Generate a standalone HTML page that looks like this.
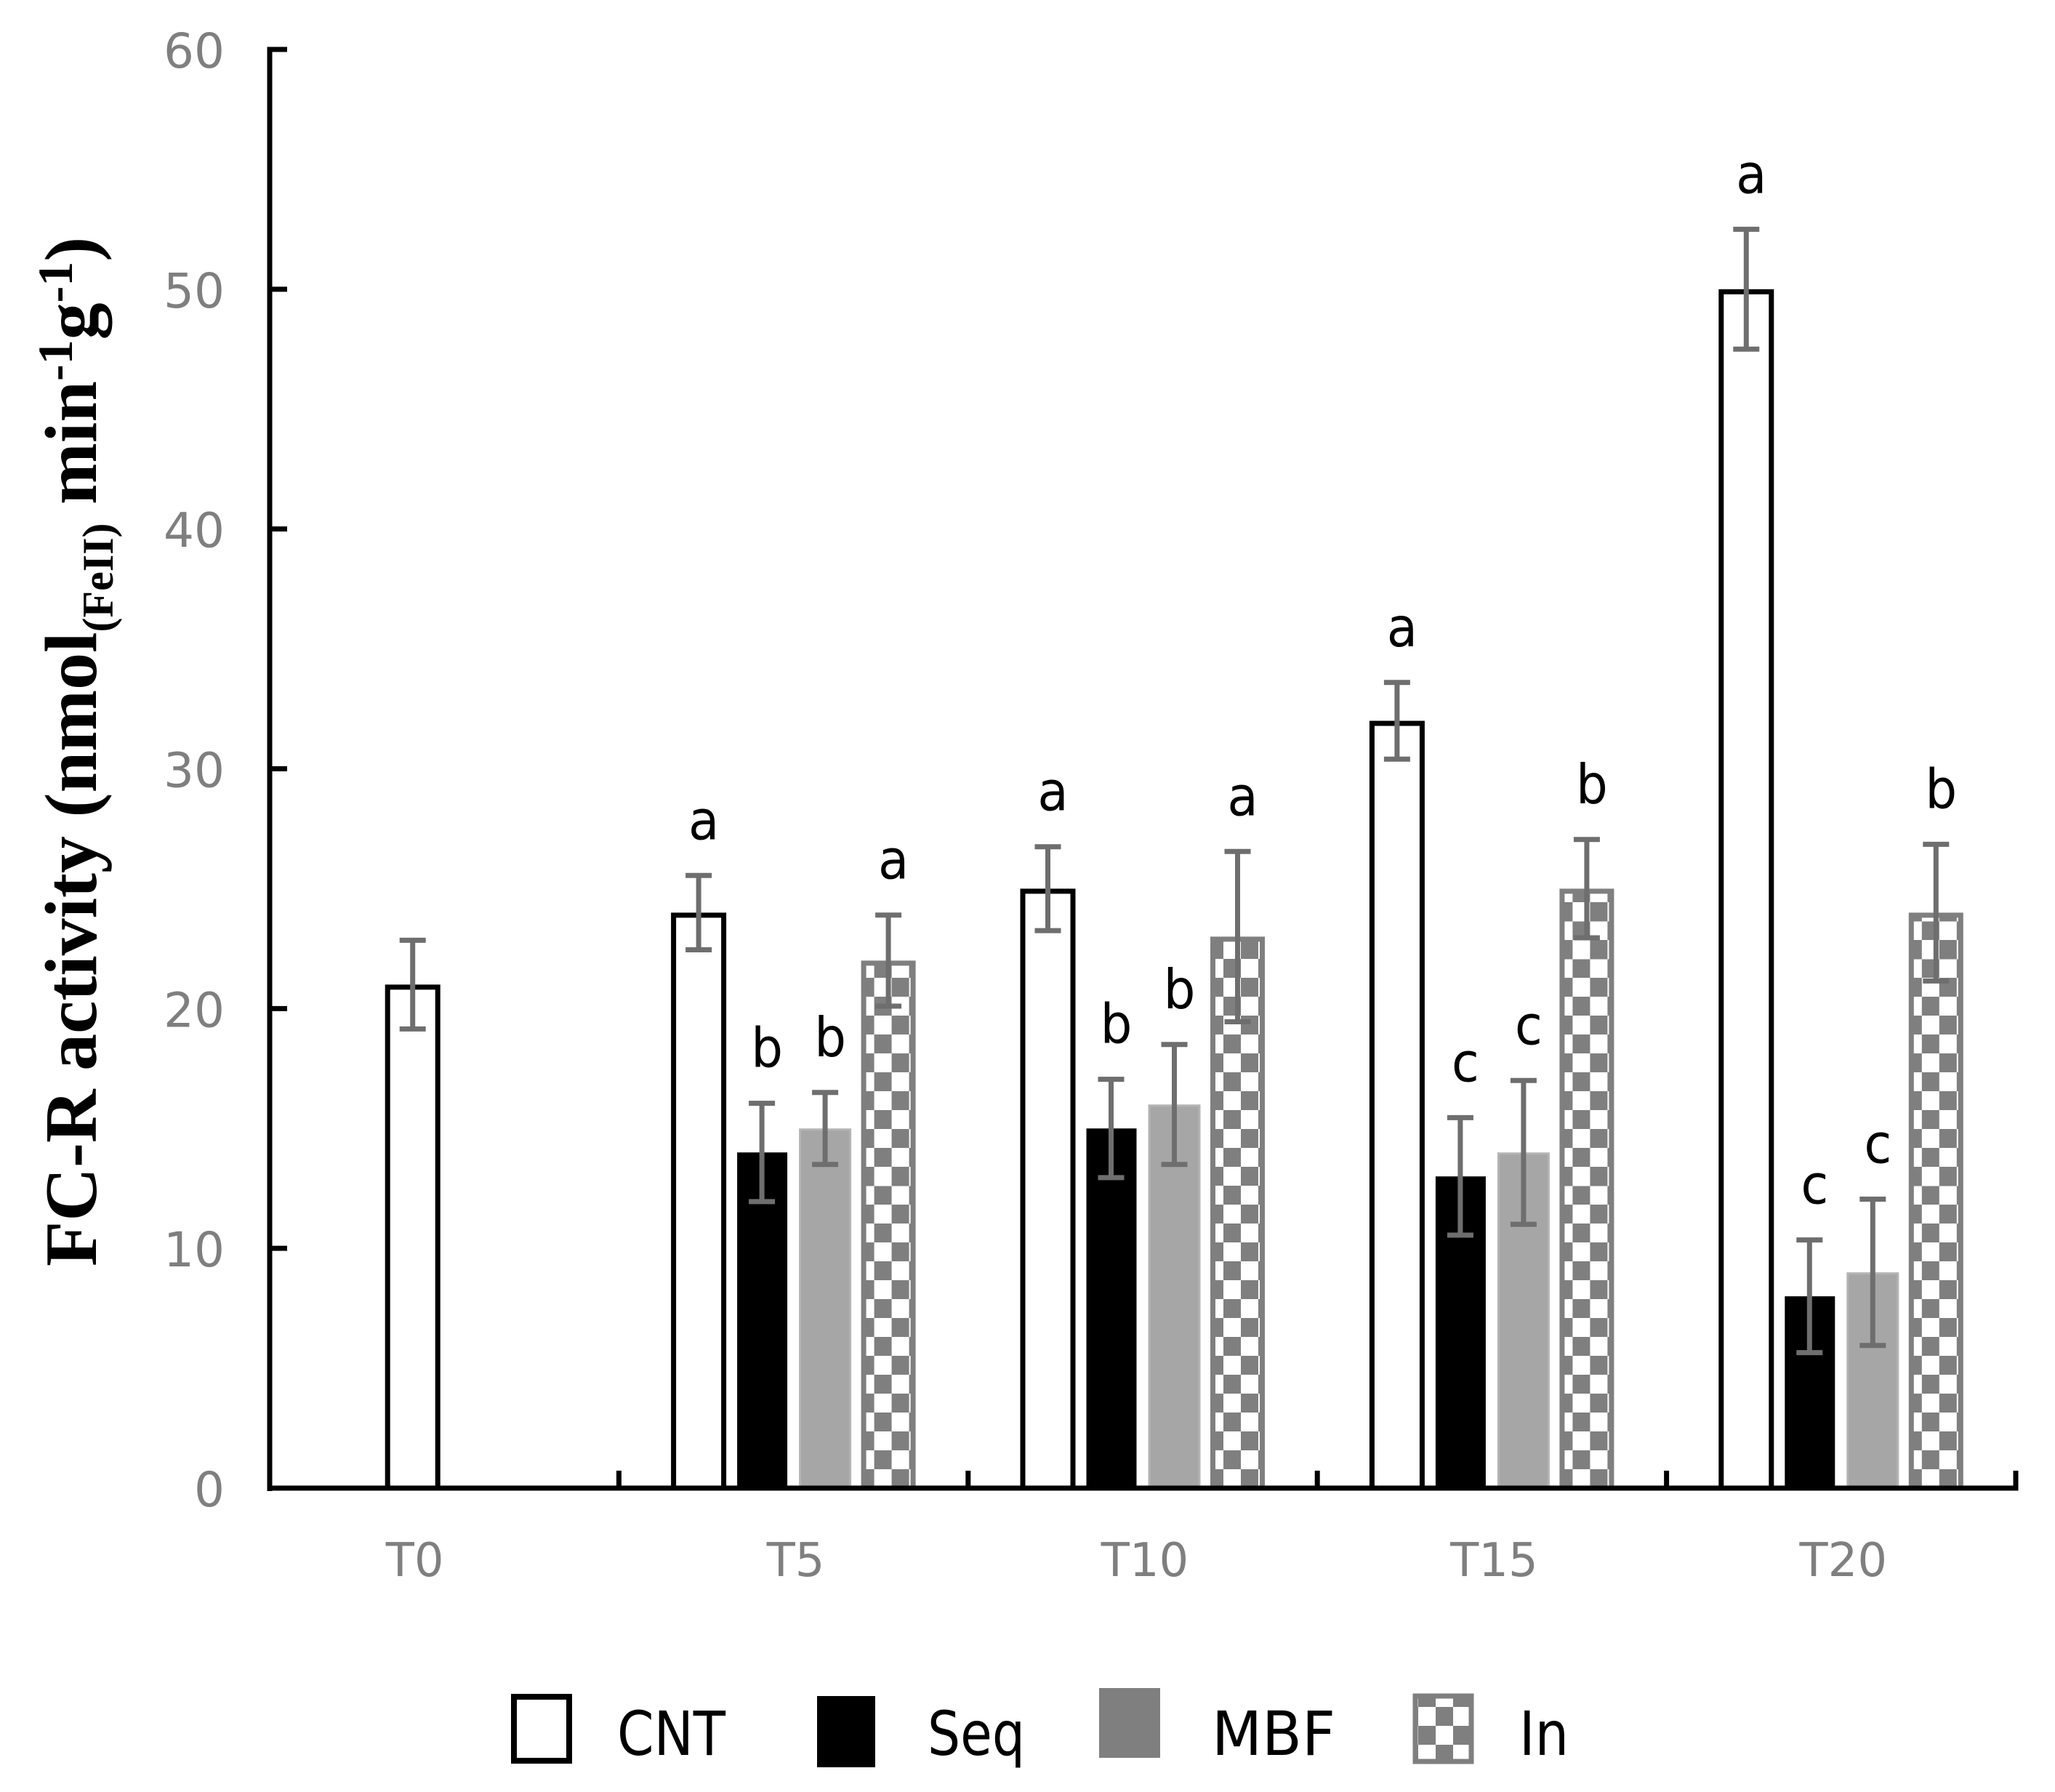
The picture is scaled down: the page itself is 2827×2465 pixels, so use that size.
<!DOCTYPE html>
<html lang="en">
<head>
<meta charset="utf-8">
<title>FC-R activity chart</title>
<style>
html,body{margin:0;padding:0;background:#fff;}
svg{display:block;}
text{font-family:"DejaVu Sans","Liberation Sans",sans-serif;}
text.serif{font-family:"Liberation Serif",serif;font-weight:bold;fill:#000;}
</style>
</head>
<body>
<svg id="chart" xmlns="http://www.w3.org/2000/svg" width="2827" height="2465" viewBox="0 0 2827 2465">
  <rect x="0" y="0" width="2827" height="2465" fill="#fff"/>
  <defs id="defs"></defs>
  <g id="bars"></g>
  <g id="errors"></g>
  <g id="letters"></g>
  <g id="axes"></g>
  <text class="serif" transform="translate(132,1742) rotate(-90)" font-size="102">FC-R activity (nmol<tspan font-size="60" dy="23">(FeII)</tspan><tspan dy="-23"> min</tspan><tspan font-size="68" dy="-33">-1</tspan><tspan dy="33">g</tspan><tspan font-size="68" dy="-33">-1</tspan><tspan dy="33">)</tspan></text>
  <g>
    <g>
      <rect x="707" y="2334" width="76" height="88" fill="#fff" stroke="#000" stroke-width="8"/>
      <text x="849" y="2414" font-size="84" textLength="149" lengthAdjust="spacingAndGlyphs" fill="#000">CNT</text>
    </g>
    <g>
      <rect x="1124" y="2333" width="80" height="98" fill="#000"/>
      <text x="1276" y="2414" font-size="84" textLength="134" lengthAdjust="spacingAndGlyphs" fill="#000">Seq</text>
    </g>
    <g>
      <rect x="1512" y="2322" width="84" height="96" fill="#7f7f7f"/>
      <text x="1667" y="2414" font-size="84" textLength="170" lengthAdjust="spacingAndGlyphs" fill="#000">MBF</text>
    </g>
    <g>
      <rect x="1947" y="2333" width="77" height="90" fill="url(#legend-check)" stroke="#7f7f7f" stroke-width="7"/>
      <text x="2090" y="2414" font-size="84" textLength="68" lengthAdjust="spacingAndGlyphs" fill="#000">In</text>
    </g>
  </g>
</svg>
<script>
// Chart data
const categories = ['T0', 'T5', 'T10', 'T15', 'T20'];
const yTicks = [0, 10, 20, 30, 40, 50, 60];
const cntValues = [21, 24, 25, 32, 50];
const seqValues = [null, 14, 15, 13, 8];
const mbfValues = [null, 15, 16, 14, 9];
const inValues = [null, 22, 23, 25, 24];
const cntErrors = [1.85, 1.55, 1.75, 1.6, 2.5];
const seqErrors = [null, 2.05, 2.05, 2.45, 2.35];
const mbfErrors = [null, 1.5, 2.5, 3, 3.05];
const inErrors = [null, 1.9, 3.55, 2.05, 2.85];
const cntLetters = ['', 'a', 'a', 'a', 'a'];
const seqLetters = ['', 'b', 'b', 'c', 'c'];
const mbfLetters = ['', 'b', 'b', 'c', 'c'];
const inLetters = ['', 'a', 'a', 'b', 'b'];

// Layout
const NS = 'http://www.w3.org/2000/svg';
const plotLeft = 371, plotRight = 2773, plotBottom = 2047, plotTop = 68, yMax = 60;
const slotStep = 87;
const y = v => plotBottom - (v / yMax) * (plotBottom - plotTop);
const bandWidth = (plotRight - plotLeft) / categories.length;
const bandCentre = i => plotLeft + bandWidth * (i + 0.5);
const slotX = (i, s) => bandCentre(i) + (s - 1.5) * slotStep;
const make = (tag, parent, attrs) => {
  const el = document.createElementNS(NS, tag);
  for (const k in attrs) el.setAttribute(k, attrs[k]);
  parent.appendChild(el);
  return el;
};
const gBars = document.getElementById('bars');
const gErrors = document.getElementById('errors');
const gLetters = document.getElementById('letters');
const gAxes = document.getElementById('axes');
const defs = document.getElementById('defs');

function checkPattern(id, originX, originY) {
  const p = make('pattern', defs, {id: id, patternUnits: 'userSpaceOnUse', x: originX, y: originY, width: 48, height: 52});
  make('rect', p, {x: 0, y: 0, width: 48, height: 52, fill: '#fff'});
  make('rect', p, {x: 0, y: 0, width: 24, height: 26, fill: '#7f7f7f'});
  make('rect', p, {x: 24, y: 26, width: 24, height: 26, fill: '#7f7f7f'});
}
checkPattern('legend-check', 1951, 2322);

function drawBar(kind, cx, value, id) {
  const top = y(value);
  let el;
  if (kind === 'cnt') {
    el = make('rect', gBars, {x: cx - 34.5, y: top + 3.5, width: 69, height: plotBottom - top - 3.5, fill: '#fff', stroke: '#000', 'stroke-width': 7});
    
  } else if (kind === 'seq') {
    el = make('rect', gBars, {x: cx - 34, y: top, width: 69, height: plotBottom - top, fill: '#000'});
    
  } else if (kind === 'mbf') {
    el = make('rect', gBars, {x: cx - 34.5, y: top + 1.5, width: 69, height: plotBottom - top - 1.5, fill: '#a6a6a6', stroke: '#b4b4b4', 'stroke-width': 3});
    
  } else {
    checkPattern(id, cx - 37.5 + 18, plotBottom - 52);
    el = make('rect', gBars, {x: cx - 34, y: top + 3.5, width: 68, height: plotBottom - top - 3.5, fill: 'url(#' + id + ')', stroke: '#7f7f7f', 'stroke-width': 7});
    
  }
  
}

function drawError(cx, value, err) {
  const yHi = y(value + err), yLo = y(value - err);
  const stem = make('line', gErrors, {x1: cx, x2: cx, y1: yHi, y2: yLo, stroke: '#6e6e6e', 'stroke-width': 7});
  
  
  const capTop = make('line', gErrors, {x1: cx - 18, x2: cx + 18, y1: yHi, y2: yHi, stroke: '#6e6e6e', 'stroke-width': 7});
  
  
  const capBottom = make('line', gErrors, {x1: cx - 18, x2: cx + 18, y1: yLo, y2: yLo, stroke: '#6e6e6e', 'stroke-width': 7});
  
  
}

function drawLetter(cx, value, err, letter) {
  if (!letter) return;
  const t = make('text', gLetters, {transform: 'translate(' + (cx + 7) + ',' + (y(value + err) - 50) + ') scale(0.92,1)', 'font-size': 75, 'text-anchor': 'middle', fill: '#000'});
  t.textContent = letter;
  
  
}

const seriesList = [
  {kind: 'cnt', values: cntValues, errors: cntErrors, letters: cntLetters},
  {kind: 'seq', values: seqValues, errors: seqErrors, letters: seqLetters},
  {kind: 'mbf', values: mbfValues, errors: mbfErrors, letters: mbfLetters},
  {kind: 'in', values: inValues, errors: inErrors, letters: inLetters}
];

categories.forEach((cat, i) => {
  const present = seriesList.filter(s => s.values[i] !== null);
  const solo = present.length === 1;
  seriesList.forEach((s, si) => {
    if (s.values[i] === null) return;
    const cx = solo ? slotX(i, 1) : slotX(i, si);
    drawBar(s.kind, cx, s.values[i], 'check-' + i + '-' + si);
    drawError(cx, s.values[i], s.errors[i]);
    drawLetter(cx, s.values[i], s.errors[i], s.letters[i]);
  });
  const lx = (solo ? slotX(i, 1) : bandCentre(i)) + 3;
  const label = make('text', gAxes, {x: lx, y: 2168, 'font-size': 64, 'text-anchor': 'middle', fill: '#7f7f7f'});
  label.textContent = cat;
  
  
});

// Axes
const yAxis = make('line', gAxes, {x1: plotLeft, x2: plotLeft, y1: plotTop - 3.5, y2: plotBottom + 4, stroke: '#000', 'stroke-width': 7});


const xAxis = make('line', gAxes, {x1: plotLeft - 3.5, x2: plotRight + 3.5, y1: plotBottom, y2: plotBottom, stroke: '#000', 'stroke-width': 7});



yTicks.forEach(v => {
  const tick = make('line', gAxes, {x1: plotLeft, x2: plotLeft + 24, y1: y(v), y2: y(v), stroke: '#000', 'stroke-width': 7});
  
  
  const label = make('text', gAxes, {x: 309, y: y(v) + 25, 'font-size': 66, 'text-anchor': 'end', fill: '#7f7f7f'});
  label.textContent = String(v);
  
  
});

categories.forEach((cat, i) => {
  const x = plotLeft + bandWidth * (i + 1);
  const tick = make('line', gAxes, {x1: x, x2: x, y1: plotBottom - 24, y2: plotBottom, stroke: '#000', 'stroke-width': 7});
  
  
});
</script>
</body>
</html>
